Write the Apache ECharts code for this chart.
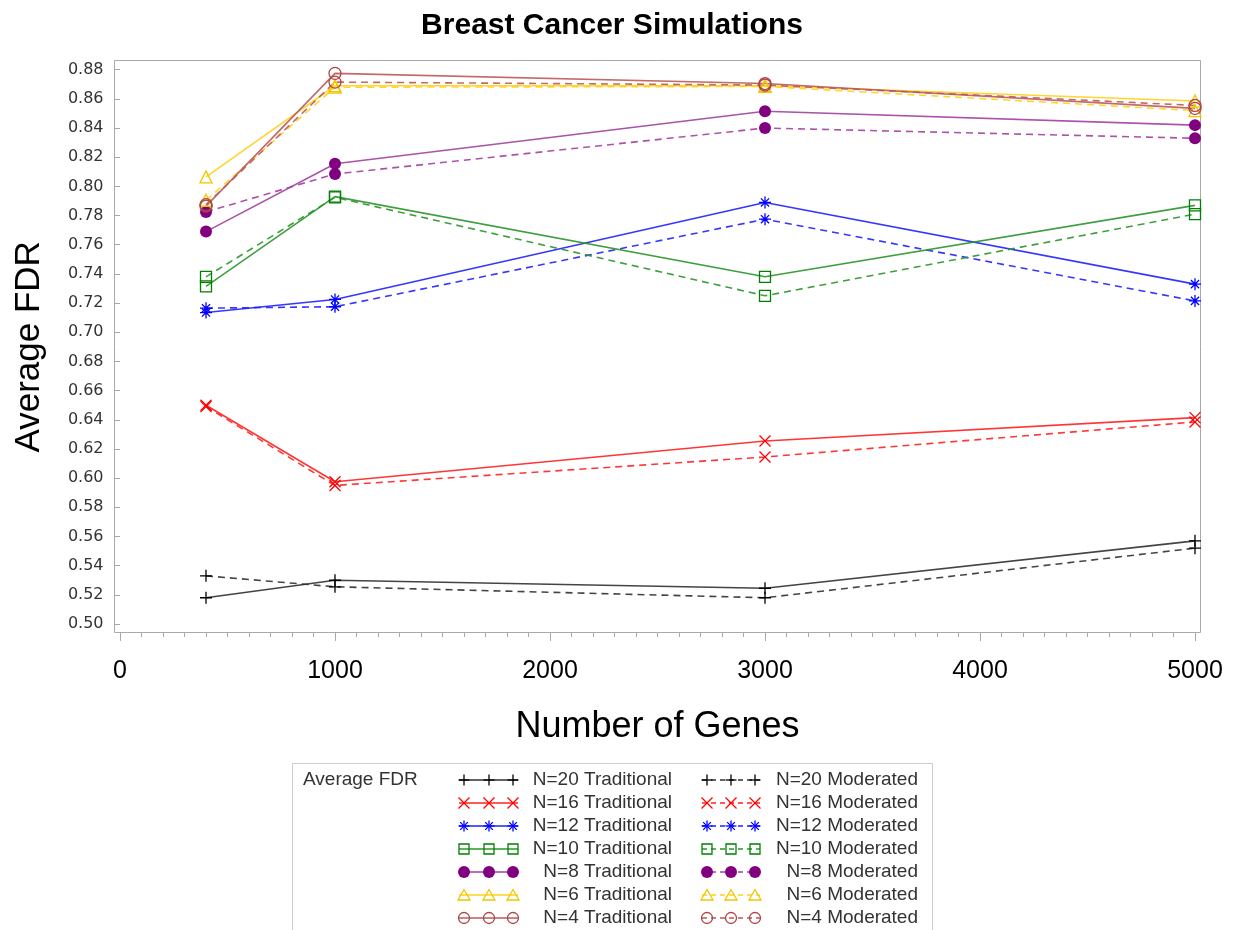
<!DOCTYPE html>
<html>
<head>
<meta charset="utf-8">
<title>Breast Cancer Simulations</title>
<script src="https://cdn.jsdelivr.net/npm/echarts@6/dist/echarts.min.js"></script>
<style>
  html, body { margin: 0; padding: 0; background: #fff; }
  #chart { width: 1234px; height: 930px; }
</style>
</head>
<body>
<div id="chart"></div>
<script>
// Number of genes used in each simulation run
const geneCounts = [400, 1000, 3000, 5000];

// Average FDR, traditional t-test, by sample size N
const trad20 = [0.518, 0.530, 0.5245, 0.557];
const trad16 = [0.650, 0.5975, 0.6255, 0.6415];
const trad12 = [0.7135, 0.7225, 0.789, 0.733];
const trad10 = [0.7315, 0.793, 0.738, 0.787];
const trad8  = [0.769, 0.8155, 0.8515, 0.842];
const trad6  = [0.8065, 0.869, 0.869, 0.8585];
const trad4  = [0.7865, 0.8775, 0.8705, 0.8535];

// Average FDR, moderated t-test, by sample size N
const mod20 = [0.533, 0.5255, 0.518, 0.552];
const mod16 = [0.649, 0.595, 0.6145, 0.6385];
const mod12 = [0.7165, 0.7175, 0.7775, 0.7215];
const mod10 = [0.738, 0.7925, 0.725, 0.781];
const mod8  = [0.7825, 0.8085, 0.840, 0.833];
const mod6  = [0.7905, 0.868, 0.8685, 0.852];
const mod4  = [0.7875, 0.8715, 0.8695, 0.8555];

// Axis ranges and tick steps
const xMin = 0, xMax = 5000, xStep = 1000;
const yMin = 0.50, yMax = 0.88, yStep = 0.02;

// Sample-size groups in legend order
const sampleSizes = [20, 16, 12, 10, 8, 6, 4];
const tradValues = [trad20, trad16, trad12, trad10, trad8, trad6, trad4];
const modValues  = [mod20, mod16, mod12, mod10, mod8, mod6, mod4];

// Look of each group: marker colour, line colour, marker kind
const groupStyles = [
  { mark: '#000000', line: '#303030', kind: 'plus' },
  { mark: '#ff0000', line: '#ff2020', kind: 'cross' },
  { mark: '#0000ff', line: '#2020ff', kind: 'star' },
  { mark: '#008000', line: '#2a952a', kind: 'square' },
  { mark: '#800080', line: '#a040a0', kind: 'dot' },
  { mark: '#f2c500', line: '#ffd21a', kind: 'triangle' },
  { mark: '#ad4646', line: '#bb5a5a', kind: 'ring' }
];

const FONT = '"Liberation Sans", Arial, sans-serif';
const DASH = [7, 5];

const symbolOf = {
  plus: 'path://M0,5L10,5M5,0L5,10',
  cross: 'path://M0,0L10,10M0,10L10,0',
  star: 'path://M5,0L5,10M0,5L10,5M1.6,1.6L8.4,8.4M1.6,8.4L8.4,1.6',
  square: 'rect',
  dot: 'circle',
  triangle: 'triangle',
  ring: 'circle'
};
const symbolSizeOf = { plus: 12, cross: 11, star: 12, square: 11, dot: 12, triangle: 12, ring: 12 };

function makeSeries(name, values, st, dashed) {
  const filled = st.kind === 'dot';
  return {
    name: name,
    type: 'line',
    data: geneCounts.map((g, i) => [g, values[i]]),
    symbol: symbolOf[st.kind],
    symbolSize: symbolSizeOf[st.kind],
    showAllSymbol: true,
    itemStyle: {
      color: filled ? st.mark : 'rgba(0,0,0,0)',
      borderColor: st.mark,
      borderWidth: filled ? 0 : 1.3
    },
    lineStyle: {
      color: st.line,
      width: 1.6,
      opacity: 0.9,
      type: dashed ? DASH : 'solid'
    },
    emphasis: { disabled: true },
    animation: false
  };
}

const series = [];
sampleSizes.forEach((n, i) => {
  series.push(makeSeries('N=' + n + ' Traditional', tradValues[i], groupStyles[i], false));
  series.push(makeSeries('N=' + n + ' Moderated', modValues[i], groupStyles[i], true));
});

// Legend key glyphs drawn as graphic shapes
function glyph(kind, cx, cy, color) {
  const s = 11, h = s / 2, lw = 1.3;
  const ln = (x1, y1, x2, y2) => ({ type: 'line', shape: { x1, y1, x2, y2 }, style: { stroke: color, lineWidth: lw } });
  switch (kind) {
    case 'plus': return [ln(cx - h, cy, cx + h, cy), ln(cx, cy - h, cx, cy + h)];
    case 'cross': return [ln(cx - h, cy - h, cx + h, cy + h), ln(cx - h, cy + h, cx + h, cy - h)];
    case 'star': {
      const d = h * 0.7;
      return [ln(cx - h, cy, cx + h, cy), ln(cx, cy - h, cx, cy + h),
              ln(cx - d, cy - d, cx + d, cy + d), ln(cx - d, cy + d, cx + d, cy - d)];
    }
    case 'square': return [{ type: 'rect', shape: { x: cx - 5, y: cy - 5, width: 10, height: 10 }, style: { fill: 'none', stroke: color, lineWidth: lw } }];
    case 'dot': return [{ type: 'circle', shape: { cx, cy, r: 6 }, style: { fill: color } }];
    case 'triangle': return [{ type: 'polygon', shape: { points: [[cx, cy - 5.5], [cx + 6, cy + 5], [cx - 6, cy + 5]] }, style: { fill: 'none', stroke: color, lineWidth: lw } }];
    case 'ring': return [{ type: 'circle', shape: { cx, cy, r: 5.5 }, style: { fill: 'none', stroke: color, lineWidth: lw } }];
  }
  return [];
}

const legendTop = 780, legendRowStep = 23;
const legendFont = '19px ' + FONT;
const legendCols = [
  { marks: [464, 489, 513], textRight: 672, label: ' Traditional', dashed: false },
  { marks: [707, 731, 755], textRight: 918, label: ' Moderated', dashed: true }
];

const graphics = [
  // plot frame
  { type: 'rect', z: 0, shape: { x: 114.5, y: 60.5, width: 1086, height: 572 }, style: { fill: 'none', stroke: '#a9a9a9', lineWidth: 1 } },
  // legend box
  { type: 'rect', shape: { x: 292.5, y: 763.5, width: 640, height: 200 }, style: { fill: 'none', stroke: '#cccccc', lineWidth: 1 } },
  { type: 'text', x: 303, y: legendTop, style: { text: 'Average FDR', fill: '#333', font: legendFont, align: 'left', verticalAlign: 'middle' } }
];

sampleSizes.forEach((n, i) => {
  const cy = legendTop + i * legendRowStep;
  const st = groupStyles[i];
  legendCols.forEach(col => {
    graphics.push({
      type: 'line',
      shape: { x1: col.marks[0] - 5, y1: cy, x2: col.marks[2] + 5, y2: cy },
      style: { stroke: st.line, lineWidth: 1.5, lineDash: col.dashed ? [5, 4] : null }
    });
    col.marks.forEach(mx => glyph(st.kind, mx, cy, st.mark).forEach(g => graphics.push(g)));
    graphics.push({
      type: 'text', x: col.textRight, y: cy,
      style: { text: 'N=' + n + col.label, fill: '#333', font: legendFont, align: 'right', verticalAlign: 'middle' }
    });
  });
});

const chart = echarts.init(document.getElementById('chart'), null, { renderer: 'canvas' });
chart.setOption({
  backgroundColor: '#ffffff',
  animation: false,
  textStyle: { fontFamily: FONT },
  title: {
    text: 'Breast Cancer Simulations',
    left: 607,
    textAlign: 'center',
    top: 6,
    textStyle: { fontSize: 30, fontWeight: 'bold', color: '#000', fontFamily: FONT }
  },
  grid: { left: 120, right: 39, top: 69.7, bottom: 306, containLabel: false },
  xAxis: {
    type: 'value',
    min: xMin, max: xMax, interval: xStep,
    offset: 9,
    name: 'Number of Genes',
    nameLocation: 'middle',
    nameGap: 76,
    nameTextStyle: { fontSize: 36, color: '#000', fontFamily: FONT },
    axisLine: { show: false },
    axisTick: { show: true, length: 8, lineStyle: { color: '#a9a9a9' } },
    minorTick: { show: true, splitNumber: 10, length: 4, lineStyle: { color: '#a9a9a9' } },
    splitLine: { show: false },
    axisLabel: {
      fontSize: 25, color: '#000', margin: 26, fontFamily: FONT,
      formatter: v => String(v)
    }
  },
  yAxis: {
    type: 'value',
    min: yMin, max: yMax, interval: yStep,
    offset: 5.5,
    name: 'Average FDR',
    nameLocation: 'middle',
    nameRotate: 90,
    nameGap: 68,
    nameTextStyle: { fontSize: 35, color: '#000', fontFamily: FONT },
    axisLine: { show: false },
    axisTick: { show: true, length: 5, lineStyle: { color: '#a9a9a9' } },
    splitLine: { show: false },
    axisLabel: {
      fontSize: 16, color: '#333', margin: 11,
      fontFamily: '"DejaVu Sans", sans-serif',
      formatter: v => v.toFixed(2)
    }
  },
  series: series,
  graphic: { elements: graphics }
});
</script>
</body>
</html>
